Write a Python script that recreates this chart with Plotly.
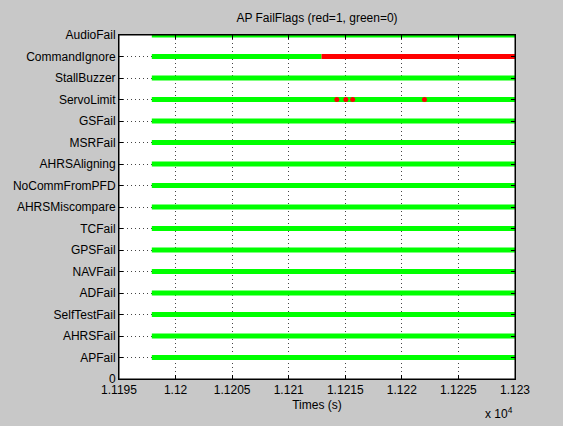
import plotly.graph_objects as go

# ---- data ----
flags = ["APFail", "AHRSFail", "SelfTestFail", "ADFail", "NAVFail", "GPSFail",
         "TCFail", "AHRSMiscompare", "NoCommFromPFD", "AHRSAligning", "MSRFail",
         "GSFail", "ServoLimit", "StallBuzzer", "CommandIgnore", "AudioFail"]
t_start = 11197.9
t_end = 11230.0
command_ignore_on_from = 11212.9
servo_limit_spikes = [11214.25, 11215.05, 11215.65, 11222.0]
x_ticks = [11195, 11200, 11205, 11210, 11215, 11220, 11225, 11230]
x_tick_labels = ["1.1195", "1.12", "1.1205", "1.121", "1.1215", "1.122", "1.1225", "1.123"]

GREEN = "#00ff00"
RED = "#ff0000"
ypos = [i + 1 for i in range(len(flags))]

fig = go.Figure()
for name, y in zip(flags, ypos):
    if name == "CommandIgnore":
        fig.add_trace(go.Scatter(x=[t_start, command_ignore_on_from], y=[y, y], mode="lines",
                                 line=dict(color=GREEN, width=5), showlegend=False, hoverinfo="skip"))
        fig.add_trace(go.Scatter(x=[command_ignore_on_from, t_end], y=[y, y], mode="lines",
                                 line=dict(color=RED, width=5), showlegend=False, hoverinfo="skip"))
    else:
        fig.add_trace(go.Scatter(x=[t_start, t_end], y=[y, y], mode="lines",
                                 line=dict(color=GREEN, width=5), showlegend=False, hoverinfo="skip"))
    if name == "ServoLimit":
        fig.add_trace(go.Scatter(x=servo_limit_spikes, y=[y] * len(servo_limit_spikes), mode="markers",
                                 marker=dict(color=RED, size=5), showlegend=False, hoverinfo="skip"))

font = dict(family="Liberation Sans, Arial, sans-serif", size=12, color="black")

axis_common = dict(showline=True, mirror="ticks", linecolor="black", linewidth=1,
                   ticks="inside", ticklen=4, tickcolor="black", tickwidth=1,
                   showgrid=True, gridcolor="#444444", griddash="1px,3px", gridwidth=1,
                   zeroline=False, automargin=False)

fig.update_layout(
    width=563, height=426,
    margin=dict(l=119, r=48, t=35, b=47, autoexpand=False),
    paper_bgcolor="#c8c8c8",
    plot_bgcolor="white",
    font=font,
    title=dict(text="AP FailFlags (red=1, green=0)", x=(119 + 396 / 2) / 563, xanchor="center",
               xref="container", y=1 - 18 / 426, yanchor="middle", font=font),
    xaxis=dict(range=[11195, 11230], tickvals=x_ticks, ticktext=x_tick_labels,
               title=dict(text="Times (s)", standoff=4, font=font), **axis_common),
    yaxis=dict(range=[0, len(flags)], tickvals=[0] + ypos, ticktext=["0"] + flags,
               **axis_common),
    shapes=[dict(type="rect", xref="x domain", yref="y domain", x0=0, y0=0, x1=1, y1=1,
                 line=dict(color="black", width=1), fillcolor="rgba(0,0,0,0)", layer="above")],
    annotations=[dict(text="x 10<sup>4</sup>", xref="paper", yref="paper",
                      x=0.96, y=-0.10, xanchor="center", yanchor="middle",
                      showarrow=False, font=font)],
)

fig.write_html("out.html", config={"displayModeBar": False, "staticPlot": True},
               post_script="document.body.style.margin='0';")
